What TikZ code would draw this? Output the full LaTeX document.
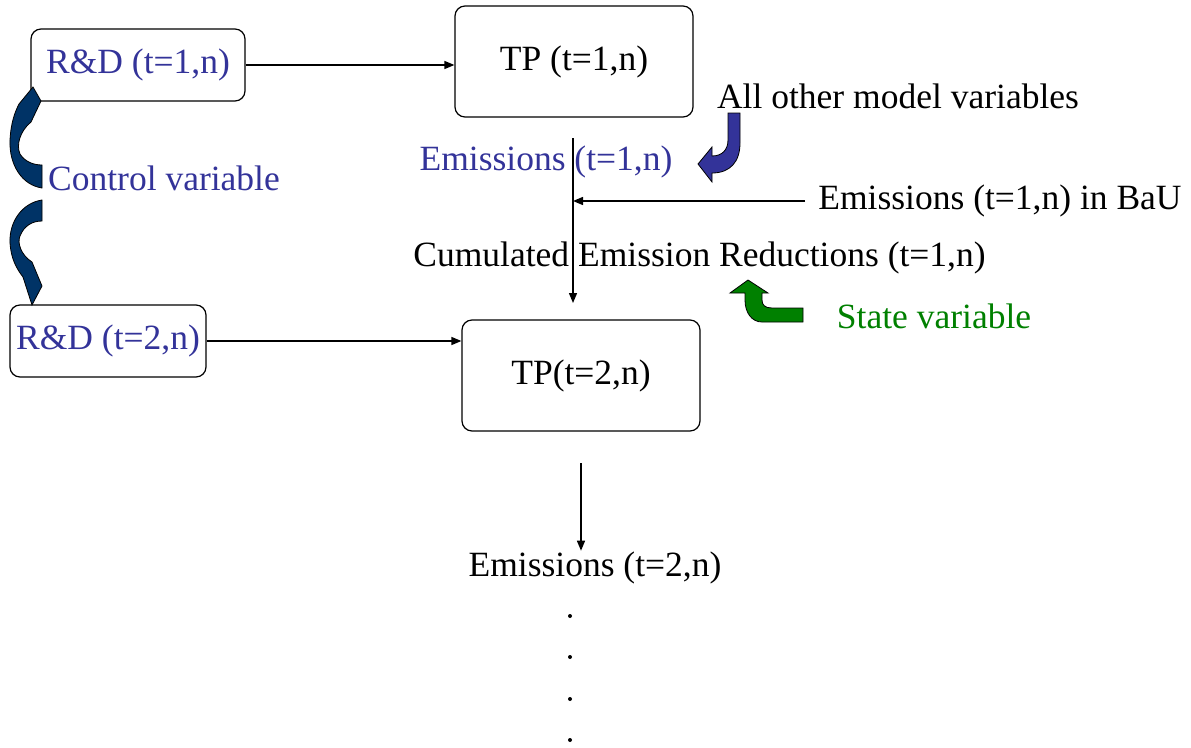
\documentclass[tikz,border=0pt]{standalone}
\usepackage{fontspec}
\setmainfont{Liberation Serif}
\usetikzlibrary{arrows.meta}
\definecolor{rdblue}{RGB}{51,51,153}
\definecolor{ctrlnavy}{RGB}{0,51,102}
\definecolor{stategreen}{RGB}{0,128,0}
\begin{document}
\begin{tikzpicture}[x=1pt,y=-1pt,color=black,
  every node/.style={font=\fontsize{35.5}{40}\selectfont,inner sep=0pt},
  box/.style={draw,rounded corners=10pt,line width=1.2pt},
  link/.style={line width=1.4pt,-{Triangle[length=10pt,width=8pt]}},
  bent/.style={draw=black,line width=0.8pt},
  dot/.style={fill,circle,minimum size=4pt}]
\useasboundingbox (0,0) rectangle (1191,747);
\node[box,minimum width=214pt,minimum height=72pt,text=rdblue] (rd1) at (138,65) {R\&D (t=1,n)};
\node[box,minimum width=238pt,minimum height=111pt] (tp1) at (574,61.5) {TP (t=1,n)};
\node[box,minimum width=196pt,minimum height=72pt,text=rdblue] (rd2) at (108,341) {R\&D (t=2,n)};
\node[box,minimum width=238pt,minimum height=111pt] (tp2) at (581,375.5) {TP(t=2,n)};
\node[text=rdblue] (ctrl) at (164,178) {Control variable};
\node (others) at (898,96) {All other model variables};
\node[text=rdblue] (em1) at (546,162) {Emissions (t=1,n)};
\node (bau) at (1000,201) {Emissions (t=1,n) in BaU};
\node (cum) at (699.5,258) {Cumulated Emission Reductions (t=1,n)};
\node[text=stategreen] (state) at (934,316) {State variable};
\node[inner sep=1pt] (em2) at (595,568) {Emissions (t=2,n)};
\foreach \y in {616,657,699,740} {
	\node[dot] (dot\y) at (570,\y) {};
}
% links
\coordinate (e1top) at (573,138);
\coordinate (e1end) at (573,303);
\coordinate (e2top) at (581,463);
\draw[link] (rd1.east) -- (rd1.east -| tp1.west);
\draw[link] (rd2.east) -- (rd2.east -| tp2.west);
\draw[link] (e1top) -- (e1end);
\draw[link] ([xshift=-13pt]bau.west) -- (bau.west -| e1top);
\draw[link] (e2top) -- (e2top |- em2.north);
% block arrows
\filldraw[bent,fill=ctrlnavy] (42,188) .. controls (22,185) and (9,165) .. (10,140)
  .. controls (11,122) and (15,112) .. (19,104) -- (33,87) -- (41,101) -- (31,122)
  .. controls (20,131) and (16,145) .. (20,154) .. controls (25,162) and (34,165) .. (42,165) -- cycle;
\filldraw[bent,fill=ctrlnavy] (42,200) .. controls (22,203) and (9,222) .. (10,243)
  .. controls (11,258) and (16,268) .. (23,277) -- (32,305) -- (42,286) -- (32,262)
  .. controls (21,255) and (17,243) .. (20,236) .. controls (24,226) and (32,221) .. (42,221) -- cycle;
\filldraw[bent,fill=rdblue] (740,113) -- (740,143) .. controls (740,162) and (730,173) .. (712,173)
  -- (712,182) -- (698,164) -- (712,147) -- (712,156) .. controls (722,156) and (728,150) .. (728,140)
  -- (728,113) -- cycle;
\filldraw[bent,fill=stategreen] (803,308) -- (803,322) -- (762,322) .. controls (752,322) and (745,313) .. (745,300)
  -- (745,293) -- (730,293) -- (748,280) -- (768,293) -- (762,293) -- (762,300)
  .. controls (762,305) and (765,308) .. (772,308) -- cycle;
\end{tikzpicture}
\end{document}
